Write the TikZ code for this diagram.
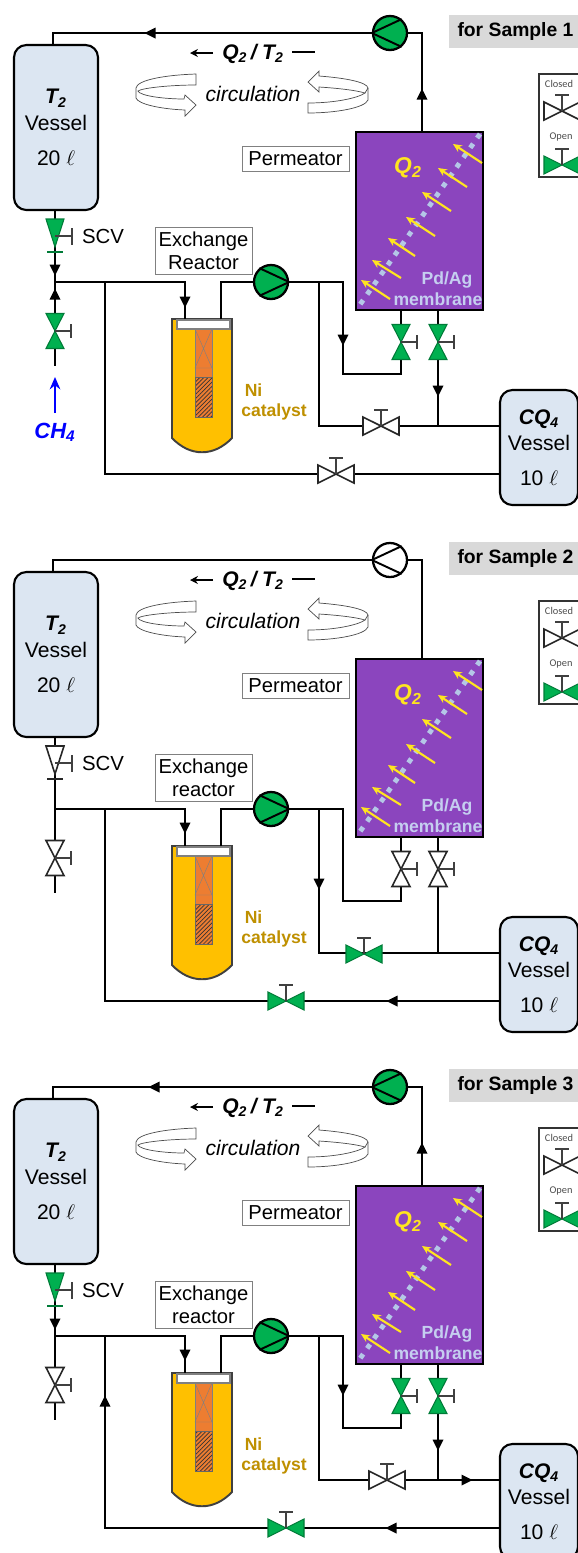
\documentclass[tikz,border=0pt]{standalone}
\usepackage{fontspec}
\setmainfont{Liberation Sans}
\newfontfamily\legendfont{Carlito}
\usetikzlibrary{arrows.meta,patterns.meta}
\definecolor{tankblue}{HTML}{DCE6F2}
\definecolor{vgreen}{HTML}{00B050}
\definecolor{permpurple}{HTML}{8B45BE}
\definecolor{dotblue}{HTML}{B4C7E7}
\definecolor{memtext}{HTML}{C5CEF0}
\definecolor{gasyellow}{HTML}{FFE51F}
\definecolor{reactoryellow}{HTML}{FFC000}
\definecolor{packorange}{HTML}{ED7D31}
\definecolor{nigold}{HTML}{BF9000}
\definecolor{tagrey}{HTML}{D9D9D9}
\newcommand{\bisub}[2]{\textbf{\textit{#1\textsubscript{#2}}}}
\tikzset{
	pipe/.style={line width=1.6pt,line join=miter},
	vstem/.style={line width=0.7pt,draw=black!75},
	vopen/.style={fill=vgreen,draw=vgreen!70!black,line width=0.6pt},
	vshut/.style={fill=white,draw=black!85,line width=0.9pt},
	tank/.style={draw,line width=1.2pt,fill=tankblue,rounded corners=7pt,align=center,font=\fontsize{12}{15}\selectfont,inner sep=0pt},
	pumpnode/.style={circle,draw,line width=1.3pt,minimum size=0.68cm,inner sep=0pt},
	tagbox/.style={draw=black!50,line width=0.5pt,fill=white,align=center,inner sep=0pt,font=\fontsize{11.5}{13}\selectfont},
	ribbon/.style={draw=black!70,line width=0.4pt},
	gasarrow/.style={draw=gasyellow,line width=1.2pt,-{Stealth[length=5pt,width=4.5pt]}},
	pics/flow/.style={code={\fill (-5.5,-5.5) -- (5.5,0) -- (-5.5,5.5) -- cycle;}},
	pics/vvalve/.style={code={
		\draw[pic actions] (-9,-17.5) -- (9,-17.5) -- (-9,17.5) -- (9,17.5) -- cycle;
		\draw[vstem] (0,0) -- (16,0) (16,-7) -- (16,7);}},
	pics/hvalve/.style={code={
		\draw[pic actions] (-18,-9) -- (-18,9) -- (18,-9) -- (18,9) -- cycle;
		\draw[vstem] (0,0) -- (0,-16) (-7,-16) -- (7,-16);}},
	pics/scv/.style={code={
		\draw[pic actions] (-9,-14) -- (9,-14) -- (0,14) -- cycle;
		\draw[vstem] (0,3) -- (17,3) (17,-5) -- (17,12);
		\draw[line width=1pt] (-8,19) -- (8,19);}},
}
\newcommand{\basepanel}[3]{
\coordinate (cTL) at (53,33);
\coordinate (cUp) at (422,33);
\coordinate (jL) at (55,282);
\coordinate (eL) at (55,366);
\coordinate (jB) at (105,282);
\coordinate (cB) at (105,474);
\coordinate (cF) at (185,282);
\coordinate (cO) at (221,282);
\coordinate (jC) at (319,282);
\coordinate (jD) at (343,282);
\coordinate (cC) at (319,426);
\coordinate (cD) at (343,374);
\coordinate (cV) at (401,374);
\coordinate (jW) at (438,426);
\coordinate (qa) at (213,53);
\coordinate (qb) at (190,53);
\coordinate (qc) at (292,52);
\coordinate (qd) at (315,52);
\node[tank,minimum width=1.68cm,minimum height=3.3cm] (vT) at (56,127.5) {\bisub{T}{2}\\Vessel\\[5pt]20 $\ell$};
\node[tank,minimum width=1.56cm,minimum height=2.3cm] (vC) at (539,447.5) {\bisub{CQ}{4}\\Vessel\\[5pt]10 $\ell$};
\node[draw,line width=1.4pt,fill=permpurple,minimum width=2.54cm,minimum height=3.56cm] (perm) at (419.5,221) {};
\node[pumpnode,fill=#3] (pTop) at (390,33) {};
\node[pumpnode,fill=vgreen] (pEx) at (271,282) {};
\fill[fill=reactoryellow,draw=black!75,line width=1.1pt] (172,319) -- (172,438) .. controls (190,457) and (214,457) .. (232,438) -- (232,319) -- cycle;
\node[draw=black!50,line width=0.7pt,fill=white,minimum width=1.06cm,minimum height=0.18cm,inner sep=0pt] (lid) at (203.5,324.5) {};
\draw[fill=packorange,draw=black!50,line width=0.25pt] (195,329) rectangle (212,377);
\draw[draw=black!50,line width=0.25pt] (195,329) -- (212,368) -- (195,368) -- (212,329) -- cycle;
\fill[fill=packorange] (195,377) rectangle (212,417);
\draw[draw=black!60,line width=0.3pt,pattern={Lines[angle=45,distance=1.7pt,line width=0.4pt]},pattern color=black!80] (195,377) rectangle (212,417);
\draw[pipe] (pTop.west) -- (cTL) -- (vT.north -| cTL);
\draw[pipe] (pTop.east) -- (cUp) -- (perm.north -| cUp);
\draw[pipe] (vT.south -| jL) -- (eL);
\draw[pipe] (jL) -- (cF) -- (lid.north -| cF);
\draw[pipe] (jB) -- (cB) -- (vC.west |- cB);
\draw[pipe] (lid.north -| cO) -- (cO) -- (pEx.west);
\draw[pipe] (pEx.east) -- (jD) -- (cD) -- (cV) -- (perm.south -| cV);
\draw[pipe] (jC) -- (cC) -- (vC.west |- cC);
\draw[pipe] (perm.south -| jW) -- (jW);
\draw[line width=1.1pt] (pTop.50) -- (pTop.west) -- (pTop.-50);
\draw[line width=1.1pt] (pEx.130) -- (pEx.east) -- (pEx.-130);
\draw[draw=dotblue,line width=2.8pt,dash pattern=on 2.8pt off 4pt] (480,134) -- (359,306);
\foreach \xa/\ya/\xb/\yb in {482/163/453/144,467/187/438/168,451/211/422/192,435/236/406/217,415/256/388/238,401/278/372/260,390/299/361/280}
	\draw[gasarrow] (\xa,\ya) -- (\xb,\yb);
\node[text=gasyellow,font=\fontsize{13}{15}\selectfont] (qTwo) at (408,168) {\bisub{Q}{2}};
\node[text=memtext,font=\bfseries\fontsize{10}{12}\selectfont] (pdag) at (447,280) {Pd/Ag};
\node[text=memtext,font=\bfseries\fontsize{10}{12}\selectfont] (memb) at (438,299) {membrane};
\node[tagbox,minimum width=2.14cm,minimum height=0.5cm] (permLabel) at (295.5,158.5) {Permeator};
\node[tagbox,minimum width=1.94cm,minimum height=0.94cm] (exLabel) at (203.5,250.5) {Exchange\\#2};
\node[text=nigold,align=left,font=\bfseries\fontsize{10}{11}\selectfont] (ni) at (274,402) {\hspace*{2pt}Ni\\catalyst};
\node[font=\fontsize{11.6}{13}\selectfont] (scvLabel) at (103,236) {SCV};
\node[font=\fontsize{12}{14}\selectfont] (qt) at (253,54) {\bisub{Q}{2}\,\textbf{\textit{/}}\,\bisub{T}{2}};
\draw[-{Stealth[length=4.5pt,width=4.5pt]},line width=0.8pt] (qa) -- (qb);
\draw[line width=0.8pt] (qc) -- (qd);
\node[font=\itshape\fontsize{12}{14}\selectfont] (circ) at (253,94) {circulation};
\draw[ribbon] (196,74) .. controls (165,75) and (137,80) .. (136,88) -- (136,98) .. controls (138,104) and (160,109) .. (185,110) -- (185,116) -- (196,105) -- (185,95) -- (184,99) .. controls (165,99) and (140,96) .. (138,91) .. controls (142,88) and (170,85) .. (196,85) -- cycle;
\draw[ribbon] (308,82) -- (319,71) -- (319,76) .. controls (345,78) and (367,82) .. (368,88) -- (368,100) .. controls (365,108) and (335,113) .. (308,113) -- (308,103) .. controls (335,103) and (358,98) .. (365,93) .. controls (355,90) and (335,88) .. (319,87) -- (319,92) -- cycle;
\draw[ribbon] (365,93) -- (368,88);
\node[fill=tagrey,minimum width=2.66cm,minimum height=0.66cm,inner sep=0pt,font=\bfseries\fontsize{11}{13}\selectfont] (tag) at (515.5,31.5) {for Sample #1};
\node[draw=black!80,line width=0.7pt,fill=white,minimum width=0.84cm,minimum height=2.06cm,inner sep=0pt] (legend) at (560,125.5) {};
\node[text=black!70,font=\legendfont\fontsize{5.9}{7}\selectfont] (lgClosed) at (559,84) {Closed};
\node[text=black!70,font=\legendfont\fontsize{5.9}{7}\selectfont] (lgOpen) at (561,137) {Open};
\pic[vshut] at (562,111) {hvalve};
\pic[vopen] at (562,165) {hvalve};
}
\begin{document}
\begin{tikzpicture}[x=0.02cm,y=-0.02cm]
\useasboundingbox (0,0) rectangle (578,1553);
\clip (0,0) rectangle (578,1553);
\fill[white] (0,0) rectangle (578,1553);
\begin{scope}
\basepanel{1}{Reactor}{vgreen}
\coordinate (chS) at (55,413);
\coordinate (chE) at (55,377);
\draw[draw=blue,line width=1.3pt,-{Stealth[length=7pt,width=6pt]}] (chS) -- (chE);
\node[text=blue,font=\fontsize{12.5}{14}\selectfont] (ch4) at (55,432) {\bisub{CH}{4}};
\pic[vopen] at (55,233) {scv};
\foreach \x/\y in {55/331,401/342,438/342}
	\pic[vopen] at (\x,\y) {vvalve};
\foreach \x/\y in {381/426,336/474}
	\pic[vshut] at (\x,\y) {hvalve};
\foreach \x/\y/\a in {150/33/180,422/94/90,55/270/-90,55/294/90,185/302/-90,343/340/-90,438/391/-90}
	\pic[rotate=\a] at (\x,\y) {flow};
\end{scope}
\begin{scope}[shift={(0,527)}]
\basepanel{2}{reactor}{white}
\pic[vshut] at (55,233) {scv};
\foreach \x/\y in {55/331,401/342,438/342}
	\pic[vshut] at (\x,\y) {vvalve};
\foreach \x/\y in {364/427,286/474}
	\pic[vopen] at (\x,\y) {hvalve};
\foreach \x/\y/\a in {185/301/-90,319/357/-90,392/474/180}
	\pic[rotate=\a] at (\x,\y) {flow};
\end{scope}
\begin{scope}[shift={(0,1054)}]
\basepanel{3}{reactor}{vgreen}
\pic[vopen] at (55,233) {scv};
\pic[vshut] at (55,331) {vvalve};
\foreach \x/\y in {401/342,438/342}
	\pic[vopen] at (\x,\y) {vvalve};
\pic[vshut] at (387,426) {hvalve};
\pic[vopen] at (286,474) {hvalve};
\foreach \x/\y/\a in {154/33/180,422/94/90,55/270/-90,185/301/-90,105/347/90,343/336/-90,438/391/-90,467/426/0,391/474/180}
	\pic[rotate=\a] at (\x,\y) {flow};
\end{scope}
\end{tikzpicture}
\end{document}
